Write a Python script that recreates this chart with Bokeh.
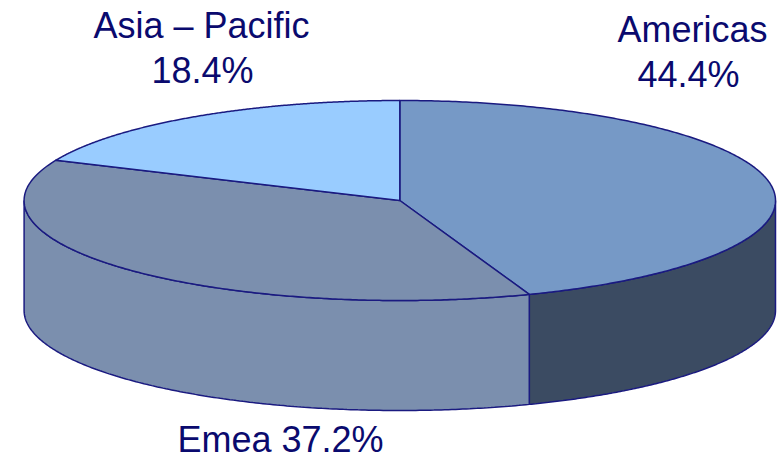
import numpy as np
from bokeh.plotting import figure
from bokeh.models import Range1d, ColumnDataSource
from bokeh.embed import file_html
from bokeh.resources import INLINE
from bokeh.core.properties import value

# ---- data ----
regions = ["Americas", "Emea", "Asia – Pacific"]
shares = [44.4, 37.2, 18.4]

# ---- styles / layout ----
top_colors = ["#7699C6", "#7B8FAE", "#99CCFF"]
side_colors = ["#3B4B62", "#7B8FAE", "#8FBFEF"]
edge = "#1A1A80"
text_color = "#0A0A6E"
W, H = 783, 462
cx, cy, a, b, depth = 399.3, 200.0, 375.7, 100.0, 110.0

p = figure(width=W, height=H, x_range=Range1d(0, W), y_range=Range1d(H, 0),
           output_backend="svg", toolbar_location=None, min_border=0)
p.axis.visible = False
p.grid.visible = False
p.outline_line_color = None
p.background_fill_color = "white"
p.border_fill_color = "white"

def pt(theta, dy=0.0):
    return cx + a * np.cos(theta), cy - b * np.sin(theta) + dy

# angles: start at top (90deg), clockwise
fr = np.array(shares) / sum(shares)
starts = []
ends = []
ang = np.pi / 2
for f in fr:
    starts.append(ang)
    ang = ang - 2 * np.pi * f
    ends.append(ang)

# side walls (front half)
side_xs, side_ys, side_fc = [], [], []
for i in range(len(shares)):
    s, e = starts[i], ends[i]
    for lo, hi in [(-np.pi, 0.0), (-3 * np.pi, -2 * np.pi)]:
        h = min(s, hi)
        l = max(e, lo)
        if h > l:
            th = np.linspace(h, l, 200)
            x1, y1 = pt(th)
            x2, y2 = pt(th[::-1], depth)
            side_xs.append(list(np.concatenate([x1, x2])))
            side_ys.append(list(np.concatenate([y1, y2])))
            side_fc.append(side_colors[i])

p.patches(xs="xs", ys="ys", fill_color="fc", line_color=edge, line_width=1.5,
          source=ColumnDataSource(dict(xs=side_xs, ys=side_ys, fc=side_fc)))

# top faces
top_xs, top_ys = [], []
for i in range(len(shares)):
    th = np.linspace(starts[i], ends[i], 300)
    x, y = pt(th)
    top_xs.append([cx] + list(x))
    top_ys.append([cy] + list(y))

p.patches(xs="xs", ys="ys", fill_color="fc", line_color=edge, line_width=1.5,
          line_join="round",
          source=ColumnDataSource(dict(xs=top_xs, ys=top_ys, fc=top_colors)))

# labels
label_pos = {"Americas": [(692, 29), (688, 74)],
             "Asia – Pacific": [(201, 25), (202, 70)],
             "Emea": [(280, 439)]}
tx, ty, tt = [], [], []
for name, sh in zip(regions, shares):
    pos = label_pos[name]
    if len(pos) == 2:
        lines = [name, f"{sh:.1f}%"]
    else:
        lines = [f"{name} {sh:.1f}%"]
    for (x, y), t in zip(pos, lines):
        tx.append(x); ty.append(y); tt.append(t)

p.text(x="x", y="y", text="t", source=ColumnDataSource(dict(x=tx, y=ty, t=tt)),
       text_font=value("Liberation Sans"), text_font_size="36px",
       text_color=text_color, text_align="center", text_baseline="alphabetic")

open("out.html", "w").write(file_html(p, INLINE))
